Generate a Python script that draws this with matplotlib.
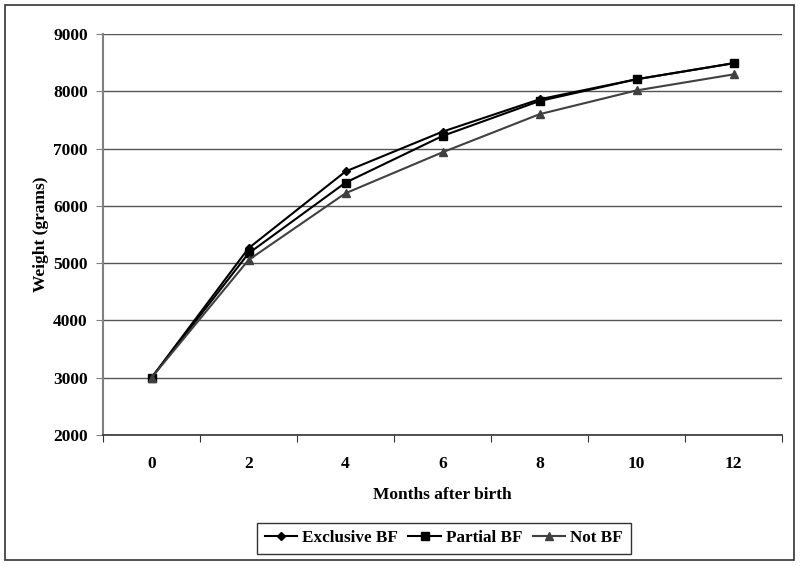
import matplotlib.pyplot as plt
from matplotlib.patches import Rectangle

# data
months = ['0', '2', '4', '6', '8', '10', '12']
exclusive_bf = [3000, 5260, 6600, 7295, 7860, 8210, 8490]
partial_bf = [3000, 5170, 6405, 7220, 7830, 8210, 8490]
not_bf = [3000, 5055, 6220, 6935, 7600, 8015, 8295]

fts = 12.5
plt.rcParams['font.family'] = ['Liberation Serif', 'DejaVu Serif']
plt.rcParams['font.weight'] = 'bold'

fig = plt.figure(figsize=(8, 5.66), dpi=100)
ax = fig.add_axes([103/800, 1-435/566, (782-103)/800, (435-34)/566])

x = range(len(months))
ax.plot(x, exclusive_bf, '-D', color='black', lw=1.5, ms=4, label='Exclusive BF')
ax.plot(x, partial_bf, '-s', color='black', lw=1.5, ms=6, label='Partial BF')
ax.plot(x, not_bf, '-^', color='#404040', lw=1.5, ms=6, label='Not BF')

ax.set_xlim(-0.5, len(months) - 0.5)
ax.set_ylim(2000, 9000)
ax.set_yticks(range(2000, 9001, 1000))
ax.yaxis.grid(True, color='#555555', lw=1)
ax.set_axisbelow(True)

# category ticks sit between labels, like a spreadsheet chart
ax.set_xticks([i - 0.5 for i in range(len(months) + 1)])
ax.set_xticklabels([])
ax.set_xticks(list(x), minor=True)
ax.set_xticklabels(months, minor=True, fontsize=fts, fontweight='bold')
ax.tick_params(axis='x', which='minor', length=0, pad=15)
ax.tick_params(axis='x', which='major', length=5, direction='out', color='#333333')
ax.tick_params(axis='y', length=5, color='#808080', labelsize=fts, pad=6)

for s in ['top', 'right']:
    ax.spines[s].set_visible(False)
ax.spines['left'].set_color('#808080')
ax.spines['left'].set_linewidth(1.5)
ax.spines['bottom'].set_color('#333333')
ax.spines['bottom'].set_linewidth(1.2)

ax.set_ylabel('Weight (grams)', fontsize=fts, fontweight='bold', labelpad=3)
ax.set_xlabel('Months after birth', fontsize=fts, fontweight='bold', labelpad=11)

leg = ax.legend(loc='upper center', bbox_to_anchor=(0.502, -0.197), ncol=3,
                fontsize=12.3, frameon=True, fancybox=False, edgecolor='black',
                handlelength=1.9, handletextpad=0.3, columnspacing=0.6,
                borderpad=0.45)
leg.get_frame().set_linewidth(1.0)

# border round the whole figure
fig.patches.append(Rectangle((5/800, 6/566), 789/800, 555/566, transform=fig.transFigure,
                             fill=False, edgecolor='#333333', lw=1.2))

plt.savefig('out.png', dpi=100)
